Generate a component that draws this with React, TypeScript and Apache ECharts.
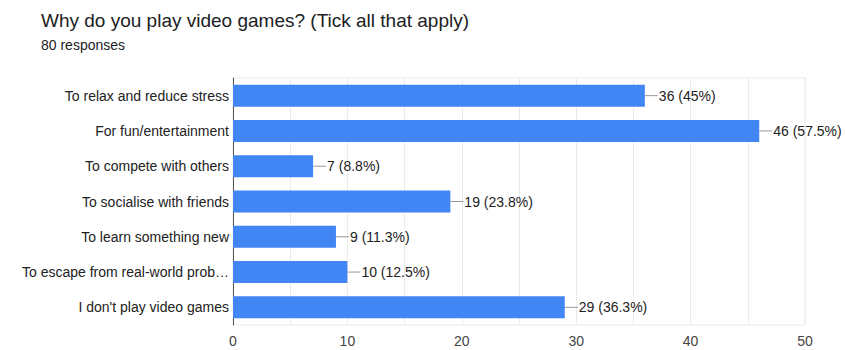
import React, { useEffect, useRef } from "react";
import * as echarts from "echarts";

const categories = [
  "To relax and reduce stress",
  "For fun/entertainment",
  "To compete with others",
  "To socialise with friends",
  "To learn something new",
  "To escape from real-world prob…",
  "I don't play video games",
];
const counts = [36, 46, 7, 19, 9, 10, 29];
const percents = ["45%", "57.5%", "8.8%", "23.8%", "11.3%", "12.5%", "36.3%"];
const xTicks = [0, 10, 20, 30, 40, 50];

const FONT = "'Liberation Sans', Arial, Helvetica, sans-serif";

export default function App() {
  const ref = useRef<HTMLDivElement>(null);
  useEffect(() => {
    if (!ref.current) return;
    const chart = echarts.init(ref.current, null, { renderer: "svg" });
    const labelData = counts.map((v, i) => [v, i, `${v} (${percents[i]})`]);
    chart.setOption({
      animation: false,
      textStyle: { fontFamily: FONT },
      title: {
        text: "Why do you play video games? (Tick all that apply)",
        subtext: "80 responses",
        left: 36,
        top: 6,
        itemGap: 8,
        textStyle: { fontFamily: FONT, fontSize: 19, fontWeight: "normal", color: "#202124" },
        subtextStyle: { fontFamily: FONT, fontSize: 14, color: "#202124" },
      },
      grid: {
        left: 233,
        right: 40,
        top: 78,
        bottom: 25,
        show: true,
        borderColor: "#ebebeb",
        borderWidth: 1,
      },
      xAxis: {
        type: "value",
        min: 0,
        max: 50,
        interval: 5,
        axisLine: { show: false },
        axisTick: { show: false },
        splitLine: { show: true, lineStyle: { color: "#ebebeb", width: 1 } },
        axisLabel: {
          fontFamily: FONT,
          fontSize: 14,
          color: "#444",
          margin: 9,
          formatter: (v: number) => (xTicks.includes(v) ? String(v) : ""),
        },
      },
      yAxis: {
        type: "category",
        data: categories,
        inverse: true,
        axisLine: { show: true, lineStyle: { color: "#555", width: 1 } },
        axisTick: { show: false },
        axisLabel: { fontFamily: FONT, fontSize: 14, color: "#222", margin: 4 },
      },
      series: [
        {
          type: "bar",
          data: counts,
          barWidth: 22,
          itemStyle: { color: "#4285f4" },
          z: 2,
        },
        {
          type: "custom",
          data: labelData,
          z: 3,
          renderItem: (params: any, api: any) => {
            const p = api.coord([api.value(0), api.value(1)]);
            const txt = labelData[params.dataIndex][2] as string;
            return {
              type: "group",
              children: [
                {
                  type: "line",
                  shape: { x1: p[0], y1: p[1], x2: p[0] + 13, y2: p[1] },
                  style: { stroke: "#999", lineWidth: 1 },
                },
                {
                  type: "text",
                  x: p[0] + 14,
                  y: p[1],
                  style: {
                    text: txt,
                    fontFamily: FONT,
                    fontSize: 14,
                    fill: "#222",
                    textVerticalAlign: "middle",
                    verticalAlign: "middle",
                    textAlign: "left",
                  },
                },
              ],
            };
          },
        },
      ],
    });
    return () => chart.dispose();
  }, []);
  return (
    <div
      ref={ref}
      style={{ position: "absolute", left: 0, top: 0, width: 845, height: 350 }}
    />
  );
}
